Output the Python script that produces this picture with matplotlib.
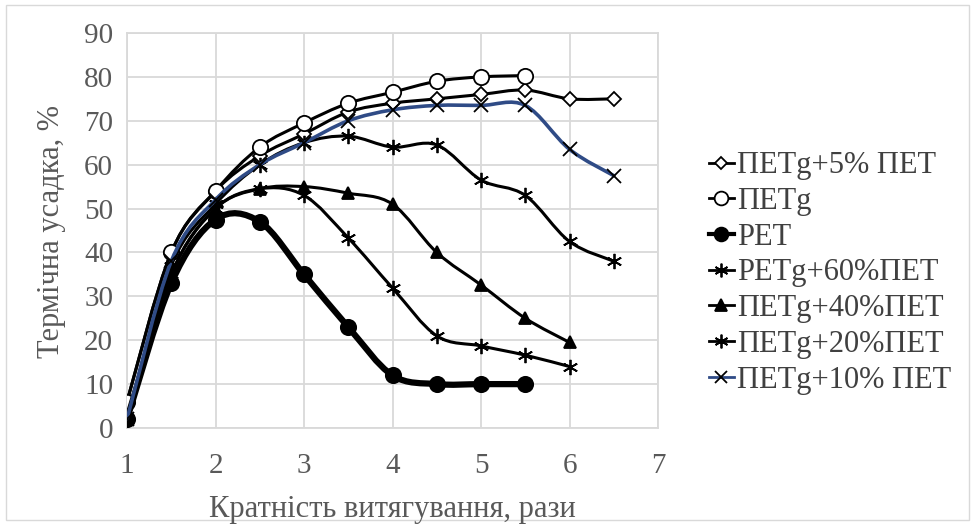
import numpy as np
import matplotlib
matplotlib.use('Agg')
import matplotlib.pyplot as plt
from matplotlib.path import Path
from matplotlib.patches import PathPatch, Rectangle
from matplotlib.lines import Line2D

plt.rcParams['font.family'] = 'serif'
plt.rcParams['font.serif'] = ['Liberation Serif', 'DejaVu Serif']

# дані
x_5 = [1, 1.5, 2, 2.5, 3, 3.5, 4, 4.5, 5, 5.5, 6, 6.5]
y_5 = [6, 40, 54, 62, 67, 72, 74, 75, 76, 77, 75, 75]

x_petg = [1, 1.5, 2, 2.5, 3, 3.5, 4, 4.5, 5, 5.5]
y_petg = [6, 40, 54, 64, 69.5, 74, 76.5, 79, 80, 80.3]

x_pet = [1, 1.5, 2, 2.5, 3, 3.5, 4, 4.5, 5, 5.5]
y_pet = [2, 33, 47.5, 47, 35, 23, 12, 10, 10, 10]

x_60 = [1, 1.5, 2, 2.5, 3, 3.5, 4, 4.5, 5, 5.5, 6]
y_60 = [2, 35, 50, 54.5, 53, 43.3, 31.9, 21, 18.7, 16.6, 14]

x_40 = [1, 1.5, 2, 2.5, 3, 3.5, 4, 4.5, 5, 5.5, 6]
y_40 = [2, 35, 50, 54.5, 55, 53.5, 51, 40, 32.6, 25, 19.5]

x_20 = [1, 1.5, 2, 2.5, 3, 3.5, 4, 4.5, 5, 5.5, 6, 6.5]
y_20 = [2, 37, 51, 60, 65, 66.5, 64, 64.5, 56.5, 53, 42.5, 38]

x_10 = [1, 1.5, 2, 2.5, 3, 3.5, 4, 4.5, 5, 5.5, 6, 6.5]
y_10 = [2, 38, 52, 60, 65, 70, 72.5, 73.5, 73.5, 73.5, 63.5, 57.5]

nazwy = ['ПЕТg+5% ПЕТ', 'ПЕТg', 'PET', 'PETg+60%ПЕТ', 'ПЕТg+40%ПЕТ', 'ПЕТg+20%ПЕТ', 'ПЕТg+10% ПЕТ']

aster = (6, 2, 0)
serie = [
    # x, y, marker, ms, mfc, kolor linii, lw
    (x_5, y_5, 'D', 7, 'white', 'black', 2.2),
    (x_petg, y_petg, 'o', 11, 'white', 'black', 2.2),
    (x_pet, y_pet, 'o', 11, 'black', 'black', 4.5),
    (x_60, y_60, aster, 11, 'black', 'black', 2.2),
    (x_40, y_40, '^', 9, 'black', 'black', 2.2),
    (x_20, y_20, aster, 11, 'black', 'black', 2.2),
    (x_10, y_10, 'x', 10, 'black', '#2F4B86', 2.6),
]


def gladka(ax, xs, ys, kolor, lw, z):
    # krzywa Beziera jak w Excelu (smoothed line)
    pts = list(zip(xs, ys))
    verts = [pts[0]]
    codes = [Path.MOVETO]
    n = len(pts)
    for i in range(n - 1):
        p0 = pts[i - 1] if i > 0 else pts[i]
        p1 = pts[i]
        p2 = pts[i + 1]
        p3 = pts[i + 2] if i + 2 < n else pts[i + 1]
        c1 = (p1[0] + (p2[0] - p0[0]) / 6, p1[1] + (p2[1] - p0[1]) / 6)
        c2 = (p2[0] - (p3[0] - p1[0]) / 6, p2[1] - (p3[1] - p1[1]) / 6)
        verts += [c1, c2, p2]
        codes += [Path.CURVE4] * 3
    ax.add_patch(PathPatch(Path(verts, codes), facecolor='none', edgecolor=kolor,
                           lw=lw, zorder=z, capstyle='round', joinstyle='round'))


fig = plt.figure(figsize=(9.73, 5.25), dpi=100)
ax = fig.add_axes([127 / 973, 1 - 428 / 525, (658 - 127) / 973, (428 - 33) / 525])

handles = []
for i, (xs, ys, m, ms, mfc, kol, lw) in enumerate(serie):
    z = 3 + i
    gladka(ax, xs, ys, kol, lw, z)
    ax.plot(xs, ys, linestyle='none', marker=m, ms=ms, mfc=mfc, mec='black',
            mew=1.3, zorder=z + 0.5)
    handles.append(Line2D([], [], color=kol, lw=2 if i != 2 else 3, marker=m,
                          ms=ms * 0.9, mfc=mfc, mec='black', mew=1.3))

ax.set_xlim(1, 7)
ax.set_ylim(0, 90)
ax.set_xticks(range(1, 8))
ax.set_yticks(range(0, 91, 10))
ax.grid(True, color='#d9d9d9', lw=1.3)
ax.set_axisbelow(True)
for s in ax.spines.values():
    s.set_color('#d9d9d9')
    s.set_linewidth(1.3)
ax.tick_params(length=0, labelsize=21, labelcolor='#595959')
ax.tick_params(axis='x', pad=18)
ax.tick_params(axis='y', pad=10)

fig.text(52 / 973, 1 - 232 / 525, 'Термічна усадка, %', rotation=90, fontsize=22,
         color='#595959', ha='center', va='center')
fig.text(392 / 973, 1 - 509 / 525, 'Кратність витягування, рази', fontsize=22,
         color='#595959', ha='center', va='center')

leg = fig.legend(handles, nazwy, loc='upper left', bbox_to_anchor=(697 / 973, 1 - 139 / 525),
                 frameon=False, fontsize=22, handlelength=0.8, handletextpad=0.1,
                 labelspacing=0.22, borderaxespad=0)
for t in leg.get_texts():
    t.set_color('#404040')

fig.patches.append(Rectangle((0.006, 0.01), 0.99, 0.98, transform=fig.transFigure,
                             fill=False, edgecolor='#d9d9d9', lw=1))

fig.savefig('out.png', dpi=100)
